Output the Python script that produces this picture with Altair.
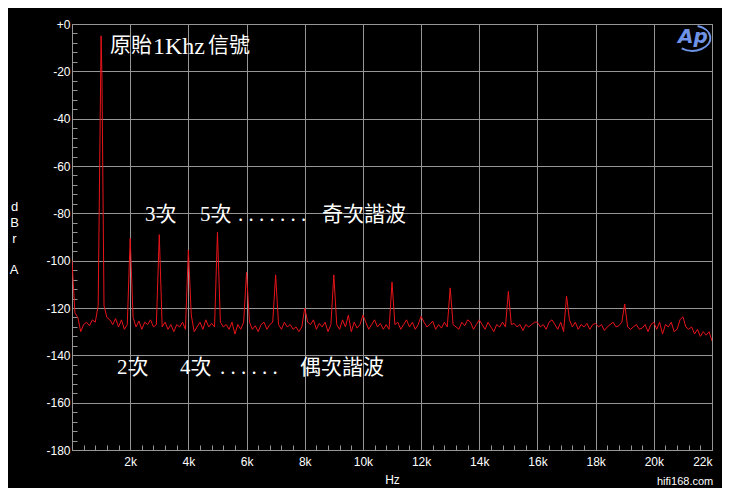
import altair as alt
import pandas as pd

# ---- data ----
# noise floor / spectrum samples every 100 Hz, 0 .. 22 kHz (dBrA)
noise_db = [
    -100, -122, -124, -130, -127, -126, -127.5, -125, -126, -119,
    -118, -119, -124, -125, -127, -124.5, -128, -125, -129, -127,
    -126, -124, -128, -125.5, -129, -126, -127, -125, -128, -127,
    -127, -128, -126, -129, -127, -130, -127, -128, -126, -129,
    -127, -123, -130, -128, -126, -129, -125, -128, -126.5, -128,
    -127, -126, -128, -127, -129, -126, -131, -127, -129, -126,
    -127, -126, -129, -127.5, -130, -127, -126, -129, -127, -126,
    -127, -127, -129, -126, -128, -127, -129, -128, -130, -128,
    -127, -126, -127, -125, -129, -126.5, -128, -126, -130, -127,
    -127, -127, -129, -125, -128, -123, -130, -126, -128.5, -127,
    -126, -126, -129, -127, -125, -128, -126.5, -129, -127, -129,
    -127, -127, -126, -129, -127, -125, -128, -126, -129, -127,
    -127, -126, -128, -127, -125.5, -129, -127, -128.5, -126, -128,
    -127, -127, -128, -129, -126, -127.5, -125, -126, -129, -127,
    -127, -127, -129, -126, -128, -130, -127, -128, -126, -128,
    -127, -127, -126.5, -128, -127, -129.5, -127, -128, -127, -126,
    -127, -128, -127, -129, -126, -125, -127, -129, -126, -130,
    -127, -125, -128, -126, -129, -127, -128, -126.5, -129, -127,
    -127, -128, -127, -129.5, -128, -127, -126, -128, -127.5, -126,
    -127, -128, -129, -128, -127, -129, -128.5, -127, -130, -127,
    -127, -129, -126, -131, -127, -128, -126, -130, -129, -125,
    -127, -128, -129, -128, -131, -129, -132, -130, -131.5, -130,
    -134,
]
step_hz = 100

# harmonic peaks (1 kHz fundamental and its harmonics)
harm_freq = [1000, 2000, 3000, 4000, 5000, 6000, 7000, 8000, 9000, 10000, 11000,
             12000, 13000, 14000, 15000, 16000, 17000, 18000, 19000, 20000, 21000]
harm_db = [-5, -90.5, -89, -95.5, -88, -105, -106, -120, -106, -123, -109,
           -123.5, -111.5, -125, -113, -126, -115, -126.5, -118.3, -126, -123.7]

# shoulder of the fundamental
shoulder_freq = [1030]
shoulder_db = [-23]

x_ticks = [2000, 4000, 6000, 8000, 10000, 12000, 14000, 16000, 18000, 20000, 22000]
y_ticks = [0, -20, -40, -60, -80, -100, -120, -140, -160, -180]
x_minor = list(range(0, 22001, 400))
y_minor = list(range(-180, 1, 4))

# ---- build table ----
spec = {i * step_hz: v for i, v in enumerate(noise_db)}
for f, v in zip(harm_freq, harm_db):
    spec[f] = v
for f, v in zip(shoulder_freq, shoulder_db):
    spec[f] = v
df = pd.DataFrame(sorted(spec.items()), columns=["hz", "db"])

GRID = "#969696"
LABEL_FONT = "Liberation Sans"
ANNO_FONT = "Liberation Serif, Noto Sans CJK TC"

xscale = alt.Scale(domain=[0, 22000], nice=False, zero=False)
yscale = alt.Scale(domain=[-180, 0], nice=False, zero=False)

line = alt.Chart(df).mark_line(color="#e8141a", strokeWidth=1, clip=True).encode(
    x=alt.X("hz:Q", scale=xscale,
            axis=alt.Axis(values=x_ticks, grid=True, gridColor=GRID, gridWidth=1,
                          domain=False, ticks=False, labelPadding=6,
                          labelExpr="datum.value / 1000 + 'k'", labelFlush=True,
                          labelColor="white", labelFont=LABEL_FONT, labelFontSize=12,
                          title="Hz", titleColor="white", titleFont=LABEL_FONT,
                          titleFontSize=12, titleFontWeight="normal",
                          titleX=320, titleY=29, titleBaseline="middle",
                          titleAlign="center")),
    y=alt.Y("db:Q", scale=yscale,
            axis=alt.Axis(values=y_ticks, grid=True, gridColor=GRID, gridWidth=1,
                          domain=False, ticks=False, labelPadding=2,
                          labelExpr="datum.value == 0 ? '+0' : datum.value",
                          labelColor="white", labelFont=LABEL_FONT, labelFontSize=12,
                          title=["d", "B", "r"], titleAngle=0,
                          titleColor="white", titleFont=LABEL_FONT, titleFontSize=13,
                          titleFontWeight="normal", titleLineHeight=16,
                          titleX=-58, titleY=182, titleAlign="center",
                          titleBaseline="middle")),
)

minor = alt.Chart(df).mark_line(opacity=0).encode(
    x=alt.X("hz:Q", scale=xscale,
            axis=alt.Axis(orient="bottom", values=x_minor, offset=-5, tickSize=5,
                          tickColor=GRID, tickWidth=1, labels=False, domain=False,
                          grid=False, title="")),
    y=alt.Y("db:Q", scale=yscale,
            axis=alt.Axis(orient="left", values=y_minor, offset=-5, tickSize=5,
                          tickColor=GRID, tickWidth=1, labels=False, domain=False,
                          grid=False, title="")),
)

def note(text, x, y, size=21, color="white", font=ANNO_FONT, align="left", **kw):
    return alt.Chart(pd.DataFrame({"t": [text]})).mark_text(
        align=align, baseline="middle", fontSize=size, color=color, font=font, **kw
    ).encode(text="t:N", x=alt.value(x), y=alt.value(y))

notes = [
    note("A", -58, 246, size=13, font=LABEL_FONT, align="center"),
    note("原貽", 38, 22),
    note("1Khz", 81, 23, size=24),
    note("信號", 136, 22),
    note("3次", 73, 191),
    note("5次", 128, 191),
    note(". . . . . . .", 166, 191),
    note("奇次諧波", 250, 191),
    note("2次", 45, 344),
    note("4次", 108, 344),
    note(". . . . . .", 148, 344),
    note("偶次諧波", 228, 344),
    note("hifi168.com", 585, 458, size=11, font=LABEL_FONT),
    note("Ap", 606, 13, size=20, color="#6f93e6", font="DejaVu Sans",
         fontStyle="italic", fontWeight="bold"),
]

logo_ring = alt.Chart(pd.DataFrame({"k": [0]})).mark_point(
    shape="M 0.31 -0.665 A 1 0.7 0 1 1 -0.57 0.57", filled=False,
    stroke="#6f93e6", strokeWidth=2, size=1300, opacity=1
).encode(x=alt.value(620), y=alt.value(14))

chart = alt.layer(line, minor, *notes, logo_ring).resolve_axis(
    x="independent", y="independent"
).properties(
    width=640, height=426,
    padding={"left": 64, "top": 16, "right": 10, "bottom": 38},
    autosize=alt.AutoSizeParams(type="none"),
    background="black",
).configure_view(stroke=GRID, strokeWidth=1)

chart.save("out.html", embed_options={"renderer": "svg", "actions": False})
